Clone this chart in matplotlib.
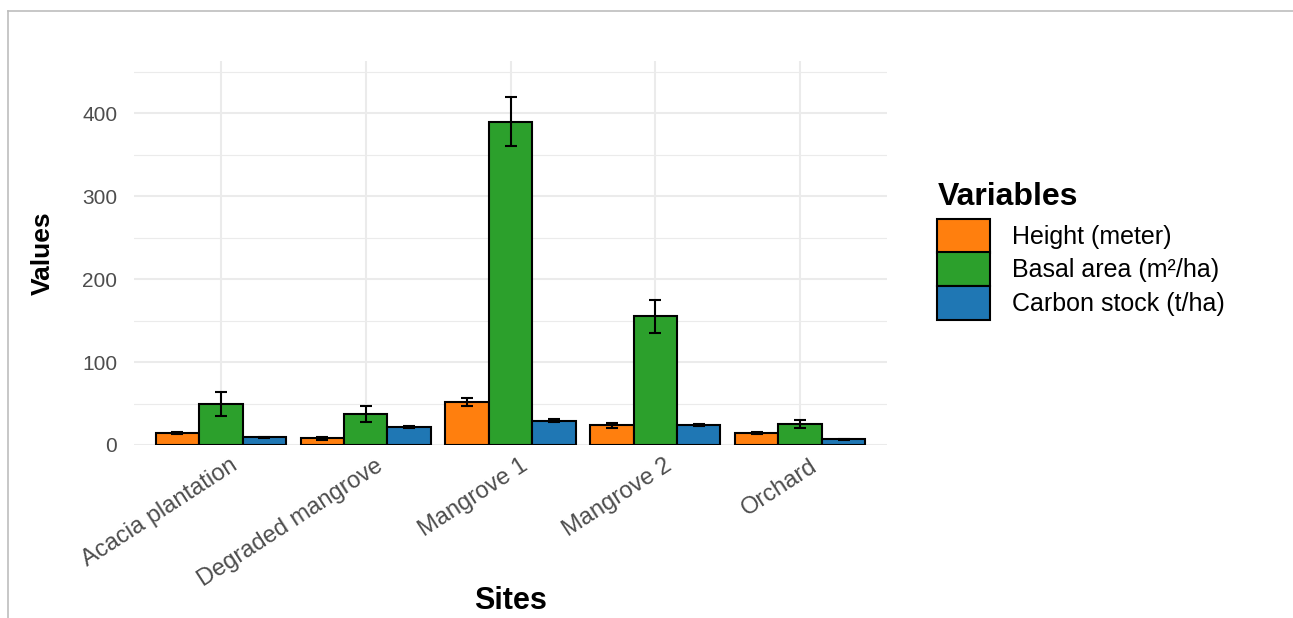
import numpy as np
import matplotlib
matplotlib.use("Agg")
import matplotlib.pyplot as plt
from matplotlib.patches import Rectangle
from matplotlib.lines import Line2D
from matplotlib.transforms import ScaledTranslation

plt.rcParams['font.family'] = ['Liberation Sans', 'DejaVu Sans']

# data (mean +/- error)
sites = ["Acacia plantation", "Degraded mangrove", "Mangrove 1", "Mangrove 2", "Orchard"]
variables = ["Height (meter)", "Basal area (m²/ha)", "Carbon stock (t/ha)"]
height = [14.5, 8, 52, 24, 14.5]
height_err = [1, 1.8, 5, 3, 1]
basal = [50, 37.5, 390, 155, 25]
basal_err = [14.5, 10, 30, 20, 5]
carbon = [9.5, 21.5, 29.5, 24, 7]
carbon_err = [0.5, 1, 1.5, 1.5, 0.5]
colors = ["#FF7F0E", "#2CA02C", "#1F77B4"]

W, H = 1293, 618
fig = plt.figure(figsize=(W / 100, H / 100), dpi=100)
ax = fig.add_axes([134 / W, 1 - 445 / H, 753 / W, 384 / H])

x = np.arange(len(sites))
w = 0.3
series = [(height, height_err), (basal, basal_err), (carbon, carbon_err)]
for i, (vals, errs) in enumerate(series):
    xs = x + (i - 1) * w
    ax.bar(xs, vals, width=w, color=colors[i], edgecolor="black", linewidth=1.5, zorder=3)
    ax.errorbar(xs, vals, yerr=errs, fmt="none", ecolor="black", elinewidth=1.5,
                capsize=4, capthick=1.5, zorder=4)

# theme_minimal look
ax.set_xlim(-0.6, len(sites) - 0.4)
ax.set_ylim(0, 463)
ax.set_yticks([0, 100, 200, 300, 400])
ax.set_yticks([50, 150, 250, 350, 450], minor=True)
ax.set_xticks(x)
ax.grid(True, which="major", color="#EBEBEB", linewidth=1.5, zorder=0)
ax.grid(True, which="minor", axis="y", color="#EBEBEB", linewidth=0.8, zorder=0)
for s in ax.spines.values():
    s.set_visible(False)
ax.tick_params(axis="both", which="both", length=0)
ax.tick_params(axis="y", labelsize=15, labelcolor="#4D4D4D", pad=12)
ax.set_xticklabels(sites, rotation=33, ha="right", va="top", rotation_mode="anchor",
                   fontsize=17, color="#4D4D4D")
ax.tick_params(axis="x", pad=7)
for lbl in ax.get_xticklabels():
    lbl.set_transform(lbl.get_transform() + ScaledTranslation(0.09, 0, fig.dpi_scale_trans))

ax.set_xlabel("Sites", fontsize=22, fontweight="bold")
ax.xaxis.set_label_coords(0.5, (445 - 586) / 384)
ax.set_ylabel("Values", fontsize=19, fontweight="bold")
ax.yaxis.set_label_coords((55 - 134) / 753, 0.5)

# legend drawn in pixel positions to match the ggplot guide
fig.text(938 / W, 1 - 197 / H, "Variables", fontsize=23, fontweight="bold", va="center", ha="left")
key_tops = [219, 252.5, 286]
for c, lab, top in zip(colors, variables, key_tops):
    fig.add_artist(Rectangle((937 / W, 1 - (top + 33.5) / H), 53 / W, 33.5 / H,
                             transform=fig.transFigure, facecolor=c, edgecolor="black",
                             linewidth=1.5))
    fig.text(1012 / W, 1 - (top + 18) / H, lab, fontsize=18, va="center", ha="left")

# screenshot frame
fig.add_artist(Line2D([8 / W, 1], [1 - 11 / H, 1 - 11 / H], color="#BDBDBD", linewidth=1.2))
fig.add_artist(Line2D([8 / W, 8 / W], [0, 1 - 11 / H], color="#BDBDBD", linewidth=1.2))

fig.savefig("out.png", dpi=100)
